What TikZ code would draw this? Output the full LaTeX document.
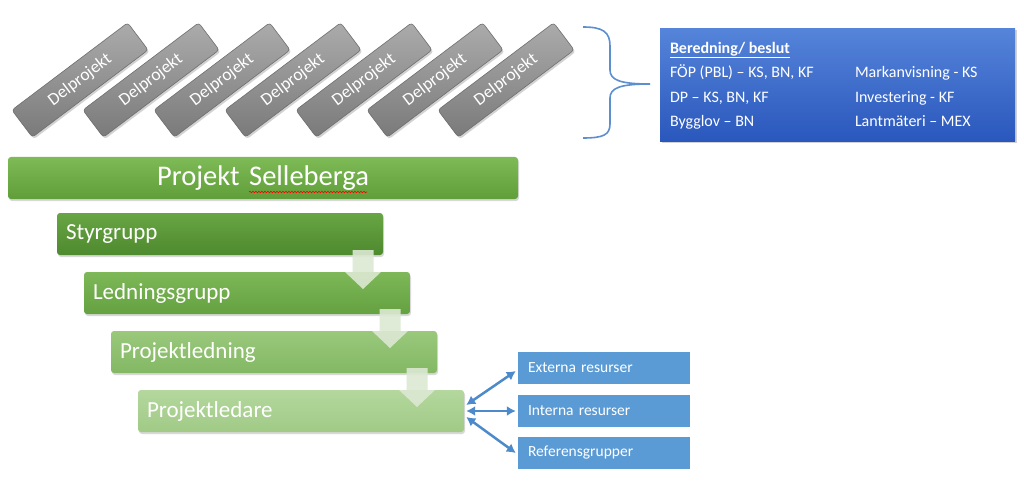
\documentclass[tikz,border=0pt]{standalone}
\usepackage{fontspec}
\setmainfont{Carlito}
\usetikzlibrary{arrows.meta,shadows,decorations.pathmorphing}

\definecolor{delgraytop}{HTML}{ABABAB}
\definecolor{delgraybot}{HTML}{7A7A7A}
\definecolor{delborder}{HTML}{6E6E6E}
\definecolor{bracecol}{HTML}{5B8FD0}
\definecolor{beslutop}{HTML}{5584DA}
\definecolor{beslutbot}{HTML}{2A57BC}
\definecolor{resblue}{HTML}{5B9BD5}
\definecolor{arrowblue}{HTML}{4D8ACB}
\definecolor{pilfill}{HTML}{DCE8D3}

\tikzset{
  delbox/.style={draw=delborder, line width=0.6pt, rounded corners=3pt,
    top color=delgraytop, bottom color=delgraybot, rotate=37,
    minimum width=145pt, minimum height=34pt, text=white,
    font=\fontsize{17.5}{19}\selectfont,
    drop shadow={opacity=0.35, shadow xshift=1.5pt, shadow yshift=-2pt}},
  greenbox/.style={rounded corners=3pt, minimum height=42pt, inner xsep=9pt,
    text width=308pt, align=left, text=white,
    font=\fontsize{23}{26}\selectfont,
    drop shadow={opacity=0.3, shadow xshift=1pt, shadow yshift=-2pt}},
  resbox/.style={fill=resblue, minimum height=32pt, inner xsep=10pt,
    text width=152pt, align=left, text=white,
    font=\fontsize{15.5}{18}\selectfont},
  biarrow/.style={arrowblue, line width=2.5pt,
    {Latex[length=9pt,width=10pt]}-{Latex[length=9pt,width=10pt]}},
  pil/.style={fill=pilfill, opacity=0.9}
}

\begin{document}
\begin{tikzpicture}[x=1pt,y=-1pt]
  \useasboundingbox[fill=white] (0,0) rectangle (1024,481);

  % Delprojekt
  \foreach \i in {0,...,6}
    \node[delbox] (del\i) at ({80+71*\i},80) {Delprojekt};

  % Brace
  \draw[bracecol, line width=1.6pt]
    (583,27) .. controls (603,27) and (610,32) .. (610,46) -- (610,70)
    .. controls (610,80) and (620,84) .. (650,84)
    .. controls (620,84) and (610,88) .. (610,98) -- (610,124)
    .. controls (610,135) and (603,138) .. (583,138);

  % Beredning/ beslut
  \node[top color=beslutop, bottom color=beslutbot, minimum width=355pt,
    minimum height=113pt, inner sep=0pt, text=white,
    drop shadow={opacity=0.35, shadow xshift=1.5pt, shadow yshift=-2pt}]
    (beslut) at (837.5,85) {\fontsize{16}{24.5}\selectfont
    \begin{tabular}{@{}p{185pt}@{}p{150pt}@{}}
      \underline{\textbf{Beredning/ beslut}} & \\
      FÖP (PBL) – KS, BN, KF & Markanvisning - KS \\
      DP – KS, BN, KF & Investering - KF \\
      Bygglov – BN & Lantmäteri – MEX
    \end{tabular}};

  % Organisation
  \node[greenbox, text width=492pt, align=center, top color={rgb,255:red,126;green,187;blue,86},
    bottom color={rgb,255:red,96;green,158;blue,58},
    font=\fontsize{28.5}{30}\selectfont] (projekt) at (263,178) {Projekt Selleberga};
  \draw[red, line width=0.6pt, decorate,
    decoration={snake, amplitude=0.8pt, segment length=3pt}] (249,192) -- (367,192);

  \node[greenbox, top color={rgb,255:red,104;green,165;blue,68},
    bottom color={rgb,255:red,78;green,138;blue,46}] (styr) at (220,234) {Styrgrupp};
  \node[greenbox, top color={rgb,255:red,126;green,184;blue,88},
    bottom color={rgb,255:red,100;green,161;blue,64}] (ledn) at (247,293) {Ledningsgrupp};
  \node[greenbox, top color={rgb,255:red,154;green,200;blue,124},
    bottom color={rgb,255:red,131;green,184;blue,99}] (pledning) at (274,352) {Projektledning};
  \node[greenbox, top color={rgb,255:red,180;green,215;blue,157},
    bottom color={rgb,255:red,160;green,202;blue,134}] (pledare) at (301,411) {Projektledare};

  % Down arrows
  \foreach \ax/\ay in {363/250, 390/309, 417/368}
    \fill[pil] (\ax-10.5,\ay) -- (\ax+10.5,\ay) -- (\ax+10.5,\ay+22)
      -- (\ax+18,\ay+22) -- (\ax,\ay+39) -- (\ax-18,\ay+22)
      -- (\ax-10.5,\ay+22) -- cycle;

  % Resurser
  \node[resbox] (ext) at (604,368) {Externa resurser};
  \node[resbox] (int) at (604,411) {Interna resurser};
  \node[resbox] (ref) at (604,453) {Referensgrupper};

  \draw[biarrow] ([xshift=2pt,yshift=6pt]pledare.east) -- ([xshift=-2pt,yshift=-3pt]ext.west);
  \draw[biarrow] ([xshift=2pt]pledare.east) -- ([xshift=-2pt]int.west);
  \draw[biarrow] ([xshift=2pt,yshift=-6pt]pledare.east) -- ([xshift=-2pt]ref.west);
\end{tikzpicture}
\end{document}
